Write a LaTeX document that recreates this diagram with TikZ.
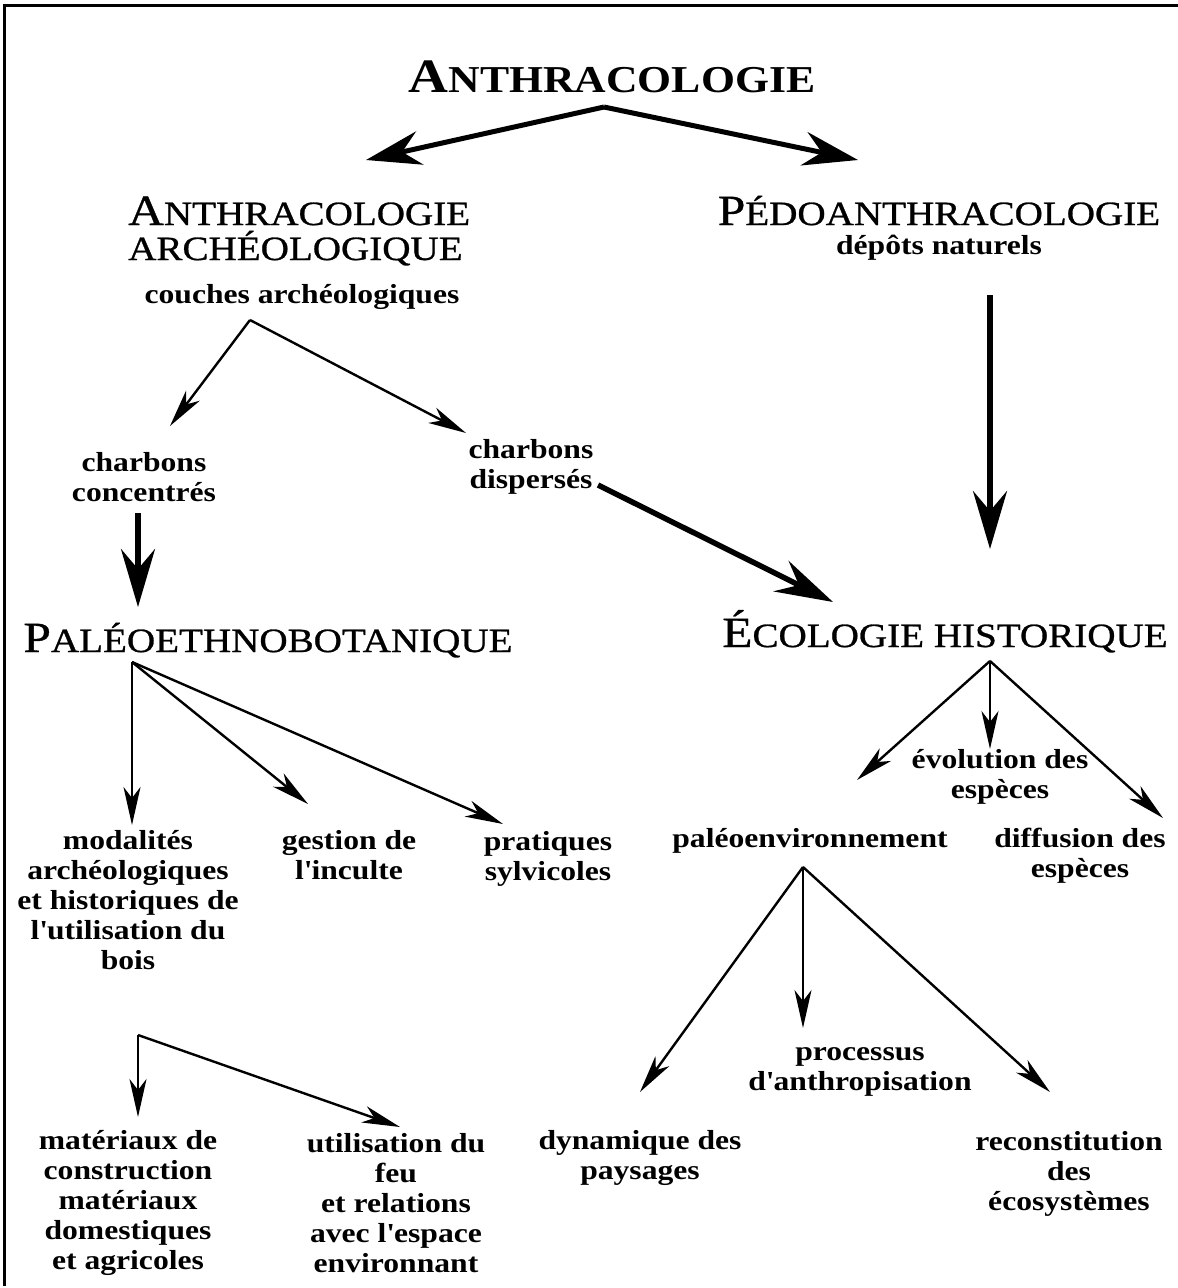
\documentclass[tikz,border=0pt]{standalone}
\usepackage{fontspec}
\setmainfont{Liberation Serif}[FakeStretch=1.15]
\newfontfamily\headfont{Liberation Serif}[FakeStretch=1.15, FakeBold=0.8]
\usetikzlibrary{arrows.meta}
\newcommand{\hsc}[2]{{\fontsize{43}{43}\selectfont #1}{\fontsize{34}{34}\selectfont #2}}
\newcommand{\tsc}[2]{{\fontsize{48}{48}\selectfont #1}{\fontsize{38}{38}\selectfont #2}}
\newcommand{\ap}{\textquotesingle}
\tikzset{
  body/.style={font=\bfseries\fontsize{27.5}{30}\selectfont, align=center, inner sep=0pt},
  head/.style={inner sep=0pt, font=\headfont},
  thinarrow/.style={line width=2.4pt, -{Stealth[length=38pt,width=17pt,inset=11pt]}},
  thickarrow/.style={line width=5.5pt, -{Stealth[length=58pt,width=34pt,inset=20pt]}},
  toparrow/.style={line width=5pt, -{Stealth[length=55pt,width=34pt,inset=18pt]}},
  frame/.style={line width=3pt}
}
\begin{document}
\begin{tikzpicture}[x=1pt,y=-1pt]
\useasboundingbox (0,0) rectangle (1178,1288);
\fill[white] (0,0) rectangle (1178,1288);
% frame
\coordinate (fr1) at (4,1286);
\coordinate (fr2) at (4,5);
\coordinate (fr3) at (1178,5);
\draw[frame] (fr1) -- (fr2) -- (fr3);

% headings
\node[inner sep=0pt, anchor=base] (title) at (612,92) {\bfseries\tsc{A}{NTHRACOLOGIE}};
\node[head, anchor=base west] (aa1) at (128,225) {\hsc{A}{NTHRACOLOGIE}};
\node[head, anchor=base west] (aa2) at (128,260) {\hsc{}{ARCHÉOLOGIQUE}};
\node[head, anchor=base] (pedo) at (939,225) {\hsc{P}{ÉDOANTHRACOLOGIE}};
\node[head, anchor=base] (paleo) at (268,652) {\hsc{P}{ALÉOETHNOBOTANIQUE}};
\node[head, anchor=base] (eco) at (945,647) {\hsc{É}{COLOGIE HISTORIQUE}};

% body texts
\node[body] (couches) at (302,297) {couches archéologiques};
\node[body] (depots) at (939,248) {dépôts naturels};
\node[body] (cc) at (144,477) {charbons\\concentrés};
\node[body] (cd) at (531,467) {charbons\\dispersés};
\node[body] (mod) at (128,900) {modalités\\archéologiques\\et historiques de\\l\ap utilisation du\\bois};
\node[body] (gest) at (349,855) {gestion de\\l\ap inculte};
\node[body] (prat) at (548,859) {pratiques\\sylvicoles};
\node[body] (evol) at (1000,777) {évolution des\\espèces};
\node[body] (penv) at (810,841) {paléoenvironnement};
\node[body] (diff) at (1080,856) {diffusion des\\espèces};
\node[body] (proc) at (860,1072) {processus\\d\ap anthropisation};
\node[body] (dyn) at (640,1158) {dynamique des\\paysages};
\node[body] (recon) at (1069,1174) {reconstitution\\des\\écosystèmes};
\node[body] (mat) at (128,1203) {matériaux de\\construction\\matériaux\\domestiques\\et agricoles};
\node[body] (util) at (396,1203) {utilisation du\\feu\\et relations\\avec l\ap espace\\environnant};

% apex and tip coordinates
\coordinate (tA) at (604,107);
\coordinate (tAl) at (366,160);
\coordinate (tAr) at (858,160);
\draw[toparrow] (tA) -- (tAl);
\draw[toparrow] (tA) -- (tAr);

\coordinate (cA) at (250,320);
\coordinate (cAl) at (170,426);
\coordinate (cAr) at (466,433);
\draw[thinarrow] (cA) -- (cAl);
\draw[thinarrow] (cA) -- (cAr);

\coordinate (ccS) at (138,513);
\coordinate (ccT) at (138,607);
\draw[thickarrow] (ccS) -- (ccT);

\coordinate (cdS) at (598,485);
\coordinate (cdT) at (833,602);
\draw[thickarrow] (cdS) -- (cdT);

\coordinate (pdS) at (990,295);
\coordinate (pdT) at (990,549);
\draw[thickarrow] (pdS) -- (pdT);

\coordinate (pA) at (132,662);
\coordinate (pA1) at (132,825);
\coordinate (pA2) at (308,804);
\coordinate (pA3) at (503,824);
\draw[thinarrow] (pA) -- (pA1);
\draw[thinarrow] (pA) -- (pA2);
\draw[thinarrow] (pA) -- (pA3);

\coordinate (eA) at (990,661);
\coordinate (eA1) at (857,780);
\coordinate (eA2) at (990,749);
\coordinate (eA3) at (1163,818);
\draw[thinarrow] (eA) -- (eA1);
\draw[thinarrow] (eA) -- (eA2);
\draw[thinarrow] (eA) -- (eA3);

\coordinate (vA) at (803,867);
\coordinate (vA1) at (640,1092);
\coordinate (vA2) at (803,1028);
\coordinate (vA3) at (1050,1092);
\draw[thinarrow] (vA) -- (vA1);
\draw[thinarrow] (vA) -- (vA2);
\draw[thinarrow] (vA) -- (vA3);

\coordinate (bA) at (138,1035);
\coordinate (bA1) at (138,1117);
\coordinate (bA2) at (400,1127);
\draw[thinarrow] (bA) -- (bA1);
\draw[thinarrow] (bA) -- (bA2);
\end{tikzpicture}
\end{document}
